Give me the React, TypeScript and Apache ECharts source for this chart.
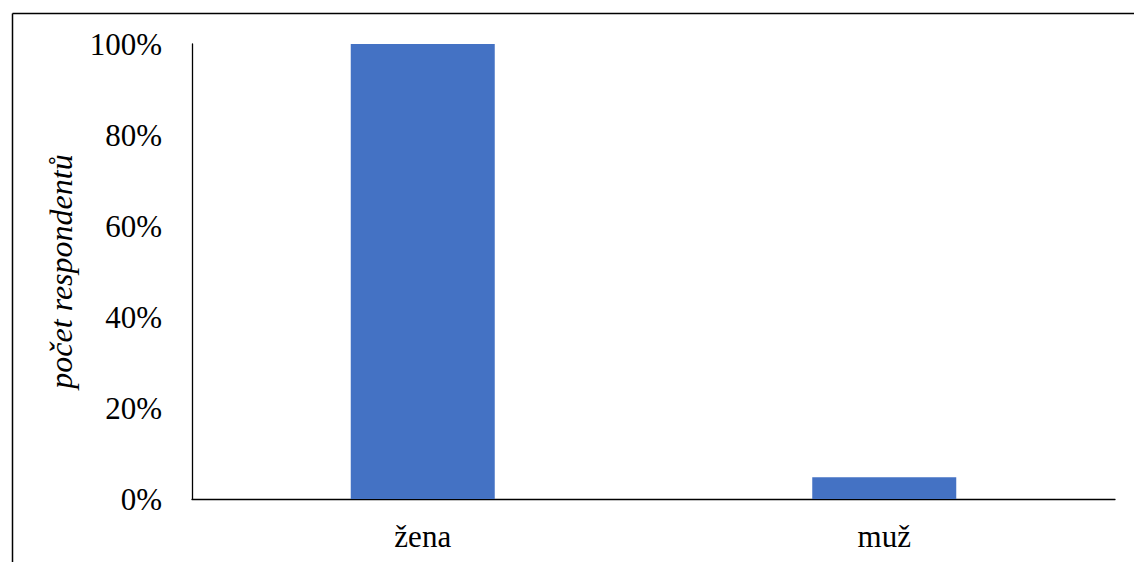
import React, { useEffect, useRef } from "react";
import * as echarts from "echarts";

const categories = ["žena", "muž"];
const values = [1.0, 0.048];
const yTicks = [0, 0.2, 0.4, 0.6, 0.8, 1.0];
const yAxisName = "počet respondentů";

export default function App() {
  const ref = useRef<HTMLDivElement>(null);
  useEffect(() => {
    document.body.style.margin = "0";
    const chart = echarts.init(ref.current!, null, { renderer: "svg" });
    const font = "'Liberation Serif', 'Times New Roman', serif";
    chart.setOption({
      animation: false,
      backgroundColor: "#fff",
      textStyle: { fontFamily: font },
      grid: { left: 192, right: 19, top: 44, bottom: 63, containLabel: false },
      xAxis: {
        type: "category",
        data: categories,
        axisLine: { show: true, lineStyle: { color: "#000", width: 1.3 } },
        axisTick: { show: false },
        axisLabel: { color: "#000", fontSize: 31, fontFamily: font, margin: 22 },
      },
      yAxis: {
        type: "value",
        min: yTicks[0],
        max: yTicks[yTicks.length - 1],
        interval: 0.2,
        name: yAxisName,
        nameLocation: "middle",
        nameRotate: 90,
        nameGap: 115,
        nameTextStyle: { color: "#000", fontSize: 32, fontStyle: "italic", fontFamily: font },
        axisLine: { show: true, lineStyle: { color: "#000", width: 1.3 } },
        axisTick: { show: false },
        splitLine: { show: false },
        axisLabel: {
          color: "#000",
          fontSize: 31,
          fontFamily: font,
          margin: 30,
          formatter: (v: number) => Math.round(v * 100) + "%",
        },
      },
      series: [
        {
          type: "bar",
          data: values,
          barWidth: 144,
          itemStyle: { color: "#4472C4" },
        },
      ],
      graphic: [
        { type: "line", shape: { x1: 12.5, y1: 13.5, x2: 1134, y2: 13.5 }, style: { stroke: "#000", lineWidth: 1.5 } },
        { type: "line", shape: { x1: 12.5, y1: 13.5, x2: 12.5, y2: 562 }, style: { stroke: "#000", lineWidth: 1.5 } },
      ],
    });
    return () => chart.dispose();
  }, []);
  return <div ref={ref} style={{ width: 1134, height: 562 }} />;
}
